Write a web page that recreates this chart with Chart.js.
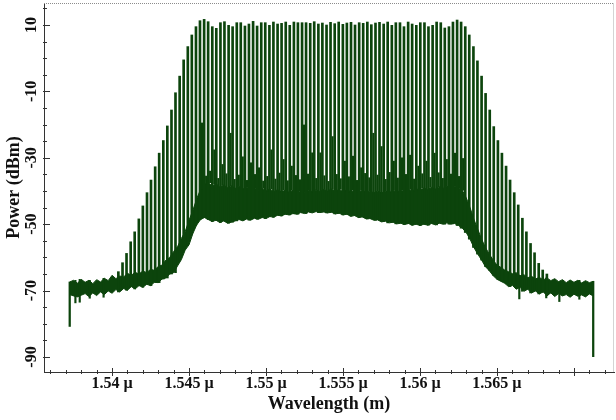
<!DOCTYPE html>
<html><head><meta charset="utf-8">
<script src="https://cdn.jsdelivr.net/npm/chart.js@4.4.1/dist/chart.umd.min.js"></script>
<style>html,body{margin:0;padding:0;background:#fff;}#wrap{width:616px;height:420px;}</style>
</head><body><div id="wrap"><canvas id="c" width="616" height="420"></canvas></div>
<script>
// ---- data (wavelength in nm, power in dBm) ----
const combWavelengths = [
1540.41,1540.68,1540.94,1541.21,1541.47,1541.74,1542.00,1542.27,1542.53,1542.80,
1543.06,1543.33,1543.59,1543.86,1544.12,1544.39,1544.65,1544.92,1545.18,1545.45,
1545.71,1545.98,1546.24,1546.51,1546.77,1547.04,1547.30,1547.57,1547.83,1548.10,
1548.36,1548.63,1548.89,1549.16,1549.42,1549.69,1549.95,1550.22,1550.48,1550.75,
1551.01,1551.28,1551.54,1551.81,1552.07,1552.34,1552.60,1552.87,1553.13,1553.40,
1553.66,1553.93,1554.19,1554.46,1554.72,1554.99,1555.25,1555.52,1555.78,1556.05,
1556.31,1556.58,1556.84,1557.11,1557.37,1557.64,1557.90,1558.17,1558.43,1558.70,
1558.96,1559.23,1559.49,1559.76,1560.02,1560.29,1560.55,1560.82,1561.08,1561.35,
1561.61,1561.88,1562.14,1562.41,1562.67,1562.94,1563.20,1563.47,1563.73,1564.00,
1564.26,1564.53,1564.79,1565.06,1565.32,1565.59,1565.85,1566.12,1566.38,1566.65,
1566.91,1567.18,1567.44,1567.71,1567.97,1568.24];
const combPeaks = [
-64.3,-61.6,-58.8,-55.3,-52.3,-48.4,-44.5,-40.5,-36.7,-32.7,
-28.6,-24.8,-20.4,-15.6,-10.4,-5.4,-0.5,3.5,7.0,9.5,
11.3,11.7,11.0,9.5,9.0,10.7,11.0,9.9,9.5,10.7,
10.7,9.7,10.3,11.1,9.7,10.7,10.7,9.9,10.9,10.3,
10.5,10.9,9.9,10.9,10.7,10.7,10.7,10.5,11.0,10.3,
10.6,10.0,10.8,10.4,10.9,10.2,10.6,10.8,10.0,10.7,
10.5,10.9,10.1,10.6,10.8,10.3,10.9,9.9,10.7,10.7,
9.5,10.9,10.3,9.9,10.7,10.7,9.5,9.9,10.9,10.7,
9.1,9.5,10.9,11.5,10.9,9.5,7.0,3.5,-0.8,-5.4,
-10.6,-15.6,-20.6,-24.8,-28.6,-32.5,-36.7,-40.5,-44.2,-48.2,
-52.3,-55.8,-58.6,-61.8,-63.8,-65.0];

// taller secondary lines between comb lines
const sideWavelengths = [1545.84,1546.64,1547.17,1547.70,1548.49,1549.02,1549.55,1550.35,1551.14,1551.67,
1552.47,1553.00,1553.53,1554.32,1555.12,1555.65,1556.18,1556.97,1557.50,1558.30,
1558.83,1559.36,1559.89,1560.42,1560.95,1561.74,1562.27,1562.80];
const sidePeaks = [-19.5,-27.6,-32.0,-22.6,-29.7,-31.5,-33.0,-27.6,-30.5,-32.5,
-20.1,-28.5,-28.5,-23.6,-31.0,-29.5,-33.0,-22.6,-26.6,-31.0,
-30.0,-29.2,-32.5,-31.0,-28.6,-30.5,-28.6,-30.2];

// lower secondary lines (texture on top of the pedestal)
const sideLowWavelengths = [1546.11,1546.37,1546.90,1547.43,1547.96,1548.23,1548.76,1549.29,1549.82,1550.08,
1550.61,1550.88,1551.41,1551.94,1552.20,1552.73,1553.26,1553.79,1554.06,1554.59,
1554.85,1555.38,1555.91,1556.44,1556.71,1557.24,1557.77,1558.03,1558.56,1559.09,
1559.62,1560.15,1560.68,1561.21,1561.48,1562.01,1562.54];
const sideLowPeaks = [-35.5,-34.0,-36.2,-34.8,-36.5,-35.2,-36.8,-35.0,-37.0,-35.6,
-36.4,-34.6,-36.9,-35.3,-36.6,-34.9,-36.2,-35.4,-37.1,-35.0,
-36.3,-35.7,-36.8,-34.7,-36.0,-35.2,-36.5,-34.4,-36.1,-35.0,
-36.4,-34.8,-35.9,-34.5,-36.2,-34.9,-35.6];

const floorWavelengths = [
1537.25,1537.5,1537.75,1538,1538.25,1538.5,1538.75,1539,1539.25,1539.5,1539.75,
1540,1540.25,1540.5,1540.75,1541,1541.25,1541.5,1541.75,
1542,1542.25,1542.5,1542.75,1543,1543.25,1543.5,1543.75,
1544,1544.25,1544.5,1544.75,1545,1545.25,1545.5,1545.75,
1546,1546.25,1546.5,1546.75,1547,1547.25,1547.5,1547.75,
1548,1548.25,1548.5,1548.75,1549,1549.25,1549.5,1549.75,
1550,1550.25,1550.5,1550.75,1551,1551.25,1551.5,1551.75,
1552,1552.25,1552.5,1552.75,1553,1553.25,1553.5,1553.75,
1554,1554.25,1554.5,1554.75,1555,1555.25,1555.5,1555.75,
1556,1556.25,1556.5,1556.75,1557,1557.25,1557.5,1557.75,
1558,1558.25,1558.5,1558.75,1559,1559.25,1559.5,1559.75,
1560,1560.25,1560.5,1560.75,1561,1561.25,1561.5,1561.75,
1562,1562.25,1562.5,1562.75,1563,1563.25,1563.5,1563.75,
1564,1564.25,1564.5,1564.75,1565,1565.25,1565.5,1565.75,
1566,1566.25,1566.5,1566.75,1567,1567.25,1567.5,1567.75,
1568,1568.25,1568.5,1568.75,1569,1569.25,1569.5,1569.75,
1570,1570.25,1570.5,1570.75,1571,1571.25];
const floorUpper = [
-67.4,-66.9,-67.8,-66.6,-67.5,-66.9,-67.9,-66.7,-67.4,-66.3,-67.0,
-65.4,-66.4,-65.6,-65.9,-64.8,-65.4,-64.5,-65.0,
-64.1,-64.6,-63.6,-63.9,-62.7,-62.3,-60.8,-60.0,
-58.2,-56.8,-54.3,-52.2,-48.8,-45.8,-42.3,-39.5,
-38.0,-37.5,-38.5,-37.8,-38.8,-38.2,-39.0,-38.4,
-39.2,-38.6,-39.4,-38.9,-39.6,-39.0,-39.8,-39.2,
-40.0,-39.4,-40.2,-39.6,-40.3,-39.7,-40.4,-39.8,
-40.5,-39.9,-40.4,-39.7,-40.3,-39.6,-40.2,-39.5,
-40.0,-39.4,-40.1,-39.5,-40.2,-39.6,-40.3,-39.7,
-40.4,-39.8,-40.5,-39.9,-40.6,-40.0,-40.6,-40.0,
-40.5,-39.8,-40.4,-39.7,-40.2,-39.5,-40.0,-39.3,
-39.8,-39.1,-39.6,-38.9,-39.4,-38.7,-39.2,-38.6,
-39.0,-38.5,-39.0,-39.8,-42.0,-45.0,-48.5,-51.5,
-54.5,-57.0,-59.0,-60.8,-62.3,-63.0,-63.8,-64.3,
-64.9,-64.6,-65.5,-65.2,-66.1,-65.7,-66.5,-66.0,
-66.8,-66.2,-67.0,-66.4,-67.3,-66.7,-67.6,-66.8,
-67.5,-66.9,-67.7,-67.0,-67.6,-67.2];
const floorLower = [
-71.2,-71.6,-71.9,-71.4,-70.9,-71.8,-70.7,-71.5,-70.4,-71.2,-70.1,
-70.8,-69.7,-70.4,-69.4,-69.9,-68.8,-69.5,-68.5,
-69.0,-68.1,-68.5,-67.5,-67.6,-66.5,-66.2,-65.0,
-64.6,-62.6,-60.7,-57.8,-56.2,-52.8,-50.2,-48.6,
-48.0,-48.6,-49.2,-48.8,-49.5,-49.0,-49.7,-49.4,
-49.0,-48.6,-49.0,-48.4,-48.8,-48.2,-48.5,-48.0,
-48.3,-47.7,-47.9,-47.3,-47.5,-47.0,-47.2,-46.8,
-47.0,-46.5,-46.8,-46.3,-46.6,-46.2,-46.5,-46.3,
-46.6,-46.4,-46.9,-46.7,-47.2,-47.0,-47.6,-47.4,
-48.0,-47.8,-48.4,-48.3,-48.8,-48.7,-49.3,-49.1,
-49.6,-49.4,-49.9,-49.7,-50.1,-49.8,-50.3,-50.0,
-50.4,-50.0,-50.3,-49.8,-50.2,-49.7,-50.0,-49.6,
-50.0,-49.8,-50.4,-51.2,-52.5,-54.5,-57.0,-59.0,
-60.8,-62.8,-64.0,-65.5,-66.6,-67.2,-67.8,-68.8,
-68.4,-69.6,-69.0,-70.2,-69.6,-70.7,-70.1,-71.0,
-70.4,-71.5,-70.7,-71.8,-70.9,-71.6,-71.2,-72.0,
-71.1,-71.7,-71.3,-71.9,-71.0,-71.6];

// narrow noise dips below the floor band
const dipWavelengths = [1537.62, 1537.9, 1538.55, 1539.45, 1566.45, 1568.2, 1569.05, 1570.35];
const dipBottoms = [-73.7, -73.5, -72.3, -72.0, -72.5, -72.2, -73.3, -72.6];

const edgeWavelengths = [1537.25, 1571.25];
const edgeTop = [-67.4, -67.2];
const edgeBottom = [-80.8, -89.9];

const xLabelledTicks = [1540, 1545, 1550, 1555, 1560, 1565, 1570];
const xShownLabels = [1540, 1545, 1550, 1555, 1560, 1565];
const yLabelledTicks = [-90, -70, -50, -30, -10, 10];

// ---- build library data ----
function nearestIndex(w) {
  let best = 0, bd = Infinity;
  for (let i = 0; i < floorWavelengths.length; i++) {
    const d = Math.abs(floorWavelengths[i] - w);
    if (d < bd) { bd = d; best = i; }
  }
  return best;
}
const GREEN = '#0c440c';
const combData = combWavelengths.map((w, i) => ({x: w, y: [floorLower[nearestIndex(w)], combPeaks[i]]}));
const sideData = sideWavelengths.map((w, i) => ({x: w, y: [floorUpper[nearestIndex(w)], sidePeaks[i]]}));
const sideLowData = sideLowWavelengths.map((w, i) => ({x: w, y: [floorUpper[nearestIndex(w)], sideLowPeaks[i]]}));
const dipData = dipWavelengths.map((w, i) => ({x: w, y: [dipBottoms[i], floorUpper[nearestIndex(w)]]}));
const edgeData = edgeWavelengths.map((w, i) => ({x: w, y: [edgeBottom[i], edgeTop[i]]}));
const upperData = floorWavelengths.map((w, i) => ({x: w, y: floorUpper[i]}));
const lowerData = floorWavelengths.map((w, i) => ({x: w, y: floorLower[i]}));

const FONT = "'Liberation Serif','Times New Roman',serif";

const framePlugin = {
  id: 'frame',
  afterDatasetsDraw(chart) {
    const {ctx, chartArea: a, scales: {x, y}} = chart;
    ctx.save();
    ctx.lineWidth = 1;
    ctx.strokeStyle = '#8c8c8c';
    ctx.setLineDash([1, 1]);
    ctx.beginPath(); ctx.moveTo(a.left, a.top + 0.5); ctx.lineTo(a.right, a.top + 0.5); ctx.stroke();
    ctx.setLineDash([]);
    ctx.strokeStyle = '#d4d4d4';
    ctx.beginPath(); ctx.moveTo(a.right - 0.5, a.top); ctx.lineTo(a.right - 0.5, a.bottom); ctx.stroke();
    ctx.strokeStyle = '#333';
    x.ticks.forEach(t => {
      const px = Math.round(x.getPixelForValue(t.value)) + 0.5;
      const major = xLabelledTicks.includes(t.value);
      ctx.beginPath();
      ctx.moveTo(px, a.bottom - (major ? 4 : 2));
      ctx.lineTo(px, a.bottom + (major ? 4 : 2));
      ctx.stroke();
    });
    y.ticks.forEach(t => {
      const py = Math.round(y.getPixelForValue(t.value)) + 0.5;
      const major = yLabelledTicks.includes(t.value);
      ctx.beginPath();
      ctx.moveTo(a.left - 1, py);
      ctx.lineTo(a.left + (major ? 6 : 3), py);
      ctx.stroke();
    });
    ctx.restore();
  }
};

const barCommon = {type: 'bar', backgroundColor: GREEN, grouped: false, borderWidth: 0};

new Chart(document.getElementById('c'), {
  type: 'bar',
  data: {
    datasets: [
      Object.assign({data: combData, barThickness: 2, order: 0}, barCommon),
      Object.assign({data: sideData, barThickness: 1.5, order: 1}, barCommon),
      Object.assign({data: sideLowData, barThickness: 1.5, order: 2}, barCommon),
      Object.assign({data: dipData, barThickness: 1.5, order: 3}, barCommon),
      Object.assign({data: edgeData, barThickness: 1.6, order: 4}, barCommon),
      {type: 'line', data: upperData, borderColor: GREEN, backgroundColor: GREEN, borderWidth: 1, pointRadius: 0, tension: 0, fill: '+1', order: 5},
      {type: 'line', data: lowerData, borderColor: GREEN, backgroundColor: GREEN, borderWidth: 1, pointRadius: 0, tension: 0, fill: false, order: 6}
    ]
  },
  options: {
    responsive: false,
    animation: false,
    devicePixelRatio: 1,
    layout: {padding: {top: 3, right: 2, left: 0, bottom: 0}},
    plugins: {legend: {display: false}, tooltip: {enabled: false}},
    scales: {
      x: {
        type: 'linear', position: 'bottom', offset: false,
        min: 1535.58, max: 1572.6,
        afterFit: s => { s.height = 48; s.paddingLeft = 0; s.paddingRight = 0; },
        grid: {display: false, drawTicks: false},
        border: {display: true, color: '#333', width: 1},
        ticks: {
          stepSize: 1, autoSkip: false, includeBounds: false, maxRotation: 0, minRotation: 0, padding: 2,
          color: '#111', font: {family: FONT, size: 16, weight: 'bold'},
          callback: v => (xShownLabels.includes(v) ? (v / 1000) + ' \u00b5' : '')
        },
        title: {display: true, text: 'Wavelength (m)', color: '#111', font: {family: FONT, size: 18, weight: 'bold'}, padding: {top: 0, bottom: 5}}
      },
      y: {
        type: 'linear', position: 'left',
        min: -94.52, max: 16.63,
        afterFit: s => { s.width = 44; s.paddingTop = 0; s.paddingBottom = 0; },
        grid: {display: false, drawTicks: false},
        border: {display: true, color: '#333', width: 1},
        ticks: {
          stepSize: 5, autoSkip: false, includeBounds: false, minRotation: 90, maxRotation: 90,
          crossAlign: 'center', padding: 1,
          color: '#111', font: {family: FONT, size: 16, weight: 'bold'},
          callback: v => (yLabelledTicks.includes(v) ? String(v) : '')
        },
        title: {display: true, text: 'Power (dBm)', color: '#111', font: {family: FONT, size: 18, weight: 'bold'}, padding: {top: 4, bottom: 0}}
      }
    }
  },
  plugins: [framePlugin]
});
</script></body></html>
